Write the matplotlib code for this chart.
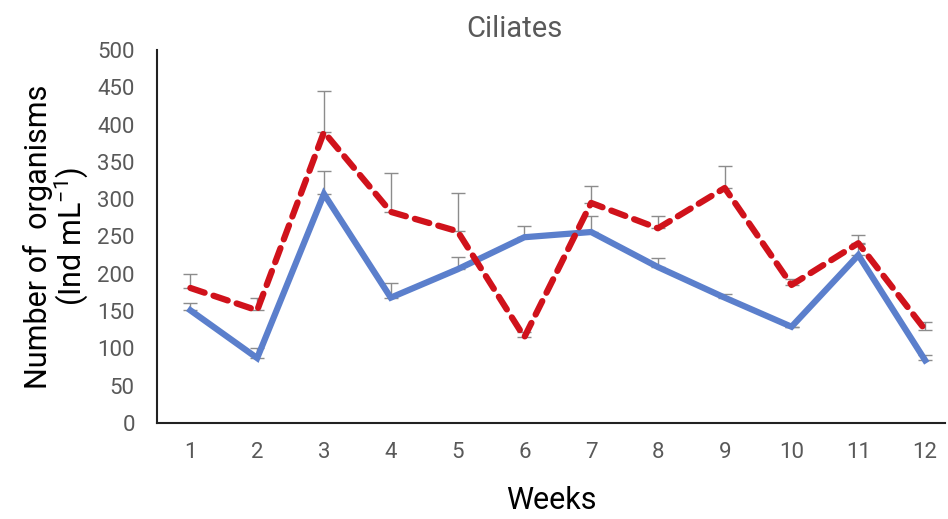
import numpy as np
import matplotlib.pyplot as plt

plt.rcParams['font.family'] = ['Roboto', 'DejaVu Sans']

weeks = [1, 2, 3, 4, 5, 6, 7, 8, 9, 10, 11, 12]
blue_vals = [151, 87, 307, 168, 206, 249, 256, 209, 168, 129, 225, 84]
blue_err = [10, 13, 31, 20, 16, 15, 21, 12, 5, 0, 15, 7]
red_vals = [181, 151, 390, 283, 257, 115, 295, 261, 315, 185, 241, 125]
red_err = [19, 17, 55, 52, 51, 7, 23, 16, 30, 8, 11, 10]

fig = plt.figure(figsize=(9.48, 5.19), dpi=100)
ax = fig.add_axes([0.1656, 0.185, 0.8314, 0.7187])

err_kw = dict(fmt='none', ecolor='#8c8c8c', elinewidth=1.0, capsize=5, capthick=1.0)
ax.errorbar(weeks, red_vals, yerr=[np.zeros(12), red_err], zorder=1, **err_kw)
ax.errorbar(weeks, blue_vals, yerr=[np.zeros(12), blue_err], zorder=1, **err_kw)

ax.plot(weeks, blue_vals, color='#5b7fcc', lw=4.5, solid_joinstyle='miter', zorder=2)
ax.plot(weeks, red_vals, color='#d0121b', lw=4.5, linestyle=(0, (2.4, 1.5)),
        dash_capstyle='round', zorder=3)

ax.set_xlim(0.5, 12.3)
ax.set_ylim(0, 500)
ax.set_xticks(weeks)
ax.set_yticks(range(0, 501, 50))
ax.tick_params(axis='both', length=0, labelsize=16, labelcolor='#595959')
ax.tick_params(axis='x', pad=14)
ax.tick_params(axis='y', pad=16)

for s in ['top', 'right']:
    ax.spines[s].set_visible(False)
for s in ['left', 'bottom']:
    ax.spines[s].set_color('#222222')
    ax.spines[s].set_linewidth(1.5)

fig.text(0.543, 0.945, 'Ciliates', fontsize=21, color='#595959', ha='center', va='center')
ax.set_xlabel('Weeks', fontsize=22, color='black', labelpad=16)
ax.set_ylabel('Number of  organisms\n(Ind mL$^{\\mathregular{-1}}$)', fontsize=22,
              color='black', labelpad=5, linespacing=1.0)

fig.savefig('out.png', dpi=100)
